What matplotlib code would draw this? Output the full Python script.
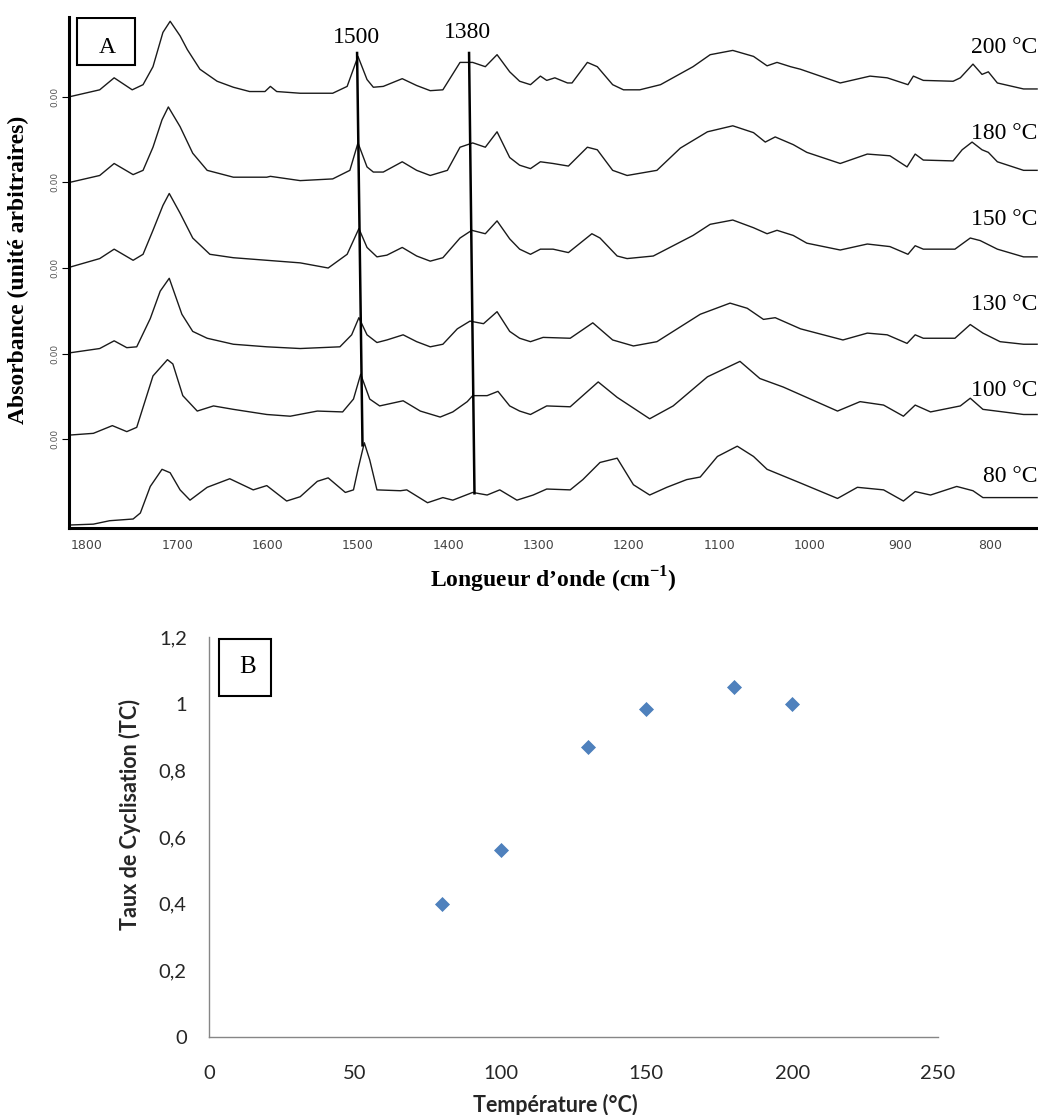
import matplotlib
matplotlib.use('Agg')
import matplotlib.pyplot as plt
import matplotlib.transforms as mtransforms
from matplotlib.patches import Rectangle

plt.rcParams['mathtext.fontset'] = 'custom'
plt.rcParams['mathtext.rm'] = 'Liberation Serif'
plt.rcParams['mathtext.bf'] = 'Liberation Serif:bold'

# ---- Panel A : IR spectra (height above each baseline) ----
temp_labels = ['80 °C', '100 °C', '130 °C', '150 °C', '180 °C', '200 °C']

wn_80 = [1819, 1793, 1775, 1749, 1741, 1730, 1717, 1708, 1697, 1686, 1667, 1642, 1616, 1601, 1579,
         1564, 1545, 1533, 1514, 1505, 1500, 1493, 1487, 1479, 1453, 1446, 1423, 1406, 1395, 1373,
         1357, 1343, 1324, 1306, 1291, 1265, 1251, 1232, 1213, 1195, 1177, 1158, 1136, 1121, 1102,
         1080, 1062, 1047, 1010, 969, 947, 918, 896, 883, 866, 837, 819, 808, 763, 748]
abs_80 = [0, 0.01, 0.05, 0.07, 0.14, 0.45, 0.65, 0.61, 0.41, 0.29, 0.44, 0.54, 0.41, 0.46, 0.28,
          0.33, 0.51, 0.55, 0.38, 0.41, 0.65, 0.96, 0.76, 0.41, 0.40, 0.41, 0.26, 0.32, 0.29, 0.38,
          0.35, 0.41, 0.29, 0.35, 0.42, 0.41, 0.53, 0.73, 0.78, 0.47, 0.35, 0.44, 0.53, 0.56, 0.80,
          0.92, 0.80, 0.65, 0.49, 0.31, 0.44, 0.41, 0.28, 0.39, 0.35, 0.45, 0.40, 0.32, 0.32, 0.32]

wn_100 = [1819, 1793, 1772, 1756, 1745, 1727, 1711, 1705, 1694, 1678, 1660, 1638, 1601, 1575, 1545,
          1517, 1505, 1497, 1487, 1476, 1450, 1431, 1409, 1395, 1379, 1373, 1357, 1345, 1332, 1321,
          1309, 1291, 1265, 1234, 1213, 1177, 1151, 1113, 1077, 1055, 1029, 969, 944, 918, 896,
          883, 866, 833, 822, 808, 763, 748]
abs_100 = [0.05, 0.07, 0.16, 0.09, 0.14, 0.74, 0.93, 0.88, 0.51, 0.33, 0.39, 0.35, 0.29, 0.27, 0.33,
           0.32, 0.47, 0.76, 0.47, 0.39, 0.45, 0.33, 0.26, 0.32, 0.44, 0.51, 0.51, 0.56, 0.39, 0.33,
           0.29, 0.39, 0.38, 0.67, 0.49, 0.24, 0.39, 0.73, 0.91, 0.71, 0.61, 0.33, 0.44, 0.40, 0.27,
           0.40, 0.32, 0.39, 0.48, 0.35, 0.29, 0.29]

wn_130 = [1819, 1786, 1770, 1756, 1745, 1730, 1719, 1709, 1695, 1683, 1667, 1638, 1601, 1564, 1520,
          1507, 1499, 1490, 1479, 1468, 1450, 1435, 1420, 1406, 1390, 1376, 1361, 1346, 1332, 1321,
          1309, 1295, 1265, 1240, 1218, 1195, 1169, 1121, 1088, 1069, 1051, 1038, 1010, 963, 936,
          914, 892, 883, 874, 839, 822, 808, 789, 763, 748]
abs_130 = [0.01, 0.06, 0.15, 0.07, 0.08, 0.41, 0.73, 0.88, 0.46, 0.26, 0.18, 0.11, 0.08, 0.06, 0.08,
           0.22, 0.42, 0.22, 0.13, 0.16, 0.22, 0.14, 0.08, 0.11, 0.29, 0.38, 0.35, 0.49, 0.26, 0.18,
           0.14, 0.19, 0.18, 0.36, 0.16, 0.09, 0.14, 0.46, 0.59, 0.53, 0.40, 0.42, 0.29, 0.16, 0.24,
           0.22, 0.12, 0.22, 0.18, 0.18, 0.34, 0.24, 0.14, 0.11, 0.11]

wn_150 = [1819, 1786, 1770, 1749, 1738, 1727, 1716, 1709, 1697, 1683, 1664, 1638, 1601, 1564, 1533,
          1512, 1499, 1490, 1479, 1468, 1451, 1435, 1420, 1406, 1387, 1374, 1359, 1346, 1332, 1321,
          1309, 1298, 1284, 1267, 1241, 1232, 1213, 1202, 1173, 1129, 1110, 1085, 1062, 1047, 1036,
          1018, 1003, 966, 936, 911, 891, 883, 874, 839, 822, 811, 792, 763, 748]
abs_150 = [0.01, 0.11, 0.22, 0.09, 0.16, 0.44, 0.73, 0.87, 0.64, 0.35, 0.16, 0.12, 0.09, 0.06, 0.00,
           0.16, 0.46, 0.24, 0.13, 0.15, 0.24, 0.14, 0.08, 0.12, 0.35, 0.44, 0.40, 0.55, 0.34, 0.22,
           0.16, 0.22, 0.22, 0.18, 0.40, 0.35, 0.14, 0.11, 0.14, 0.38, 0.51, 0.56, 0.47, 0.40, 0.44,
           0.38, 0.29, 0.21, 0.28, 0.25, 0.16, 0.26, 0.22, 0.22, 0.35, 0.32, 0.22, 0.13, 0.13]

wn_180 = [1819, 1786, 1770, 1749, 1738, 1727, 1717, 1710, 1697, 1683, 1667, 1638, 1601, 1597, 1564,
          1528, 1509, 1500, 1490, 1483, 1472, 1451, 1435, 1420, 1401, 1387, 1373, 1359, 1346, 1332,
          1321, 1309, 1298, 1284, 1267, 1246, 1235, 1218, 1202, 1169, 1143, 1113, 1085, 1062, 1049,
          1038, 1018, 1003, 966, 936, 911, 892, 883, 874, 841, 831, 820, 809, 802, 792, 763, 748]
abs_180 = [0, 0.08, 0.22, 0.09, 0.14, 0.41, 0.73, 0.88, 0.65, 0.34, 0.14, 0.06, 0.06, 0.07, 0.02,
           0.04, 0.14, 0.46, 0.18, 0.12, 0.12, 0.24, 0.14, 0.08, 0.14, 0.41, 0.46, 0.41, 0.59, 0.29,
           0.20, 0.16, 0.24, 0.22, 0.19, 0.41, 0.38, 0.14, 0.08, 0.14, 0.40, 0.59, 0.66, 0.58, 0.47,
           0.53, 0.44, 0.35, 0.22, 0.33, 0.31, 0.18, 0.33, 0.26, 0.25, 0.38, 0.47, 0.38, 0.35, 0.24,
           0.14, 0.14]

wn_200 = [1819, 1786, 1770, 1750, 1738, 1727, 1716, 1708, 1697, 1689, 1675, 1656, 1638, 1620, 1603,
          1597, 1590, 1564, 1528, 1512, 1500, 1490, 1483, 1472, 1451, 1435, 1420, 1406, 1387, 1373,
          1359, 1346, 1332, 1321, 1309, 1298, 1291, 1282, 1268, 1263, 1246, 1235, 1218, 1206, 1188,
          1165, 1129, 1110, 1085, 1062, 1047, 1036, 1021, 1010, 966, 933, 914, 891, 885, 874,
          841, 833, 819, 809, 802, 792, 763, 748]
abs_200 = [0.00, 0.08, 0.22, 0.08, 0.14, 0.35, 0.75, 0.88, 0.71, 0.55, 0.32, 0.18, 0.11, 0.06, 0.06,
           0.12, 0.06, 0.04, 0.04, 0.12, 0.47, 0.20, 0.11, 0.12, 0.21, 0.13, 0.07, 0.08, 0.40, 0.40,
           0.35, 0.49, 0.29, 0.18, 0.14, 0.24, 0.19, 0.22, 0.16, 0.16, 0.40, 0.35, 0.14, 0.08, 0.08,
           0.14, 0.35, 0.49, 0.54, 0.47, 0.36, 0.40, 0.35, 0.32, 0.16, 0.24, 0.22, 0.14, 0.24, 0.19,
           0.18, 0.22, 0.38, 0.26, 0.29, 0.16, 0.09, 0.09]

spectra = [(wn_80, abs_80), (wn_100, abs_100), (wn_130, abs_130),
           (wn_150, abs_150), (wn_180, abs_180), (wn_200, abs_200)]

# guide lines drawn on the spectra (wavenumber, stacked absorbance)
line_1500_wn = [1501, 1495]
line_1500_y = [5.51, 0.93]
line_1380_wn = [1377, 1371]
line_1380_y = [5.51, 0.37]

# ---- Panel B : cyclisation ratio vs temperature ----
temp_B = [80, 100, 130, 150, 180, 200]
tc_B = [0.40, 0.56, 0.87, 0.985, 1.05, 1.00]

serif = 'Liberation Serif'
fig = plt.figure(figsize=(10.38, 11.15), dpi=100)

# Panel A
axA = fig.add_axes([69 / 1038, 1 - 528 / 1115, 969 / 1038, 511 / 1115])
for offset, (wn, ab) in enumerate(spectra):
    axA.plot(wn, [a + offset for a in ab], color='#1a1a1a', lw=1.0)
axA.plot(line_1500_wn, line_1500_y, color='black', lw=1.8)
axA.plot(line_1380_wn, line_1380_y, color='black', lw=1.8)
axA.text(1502, 5.69, '1500', ha='center', va='center', fontsize=17, family=serif)
axA.text(1379, 5.75, '1380', ha='center', va='center', fontsize=17, family=serif)

blend = mtransforms.blended_transform_factory(axA.transAxes, axA.transData)
for offset, lab in enumerate(temp_labels):
    axA.text(0.999, offset + 0.57, lab, ha='right', va='center', fontsize=17,
             family=serif, transform=blend)

axA.set_xlim(1820, 747)
axA.set_ylim(-0.035, 5.93)
axA.set_xticks(range(1800, 700, -100))
axA.tick_params(axis='x', length=0, pad=8, labelsize=9, labelcolor='#444444')
axA.set_yticks([1, 2, 3, 4, 5])
axA.set_yticklabels(['0.00'] * 5, rotation=90, va='center', fontsize=6.5, color='#555555')
axA.tick_params(axis='y', length=5, width=0.8, pad=2)
for s in ['top', 'right']:
    axA.spines[s].set_visible(False)
axA.spines['left'].set_linewidth(2.2)
axA.spines['bottom'].set_linewidth(2.2)

axA.add_patch(Rectangle((0.008, 0.906), 0.060, 0.092, transform=axA.transAxes,
                        fill=False, lw=1.5, ec='black'))
axA.text(0.039, 0.941, 'A', transform=axA.transAxes, ha='center', va='center',
         fontsize=17, family=serif)

fig.text(18 / 1038, 1 - 270 / 1115, 'Absorbance (unité arbitraires)', rotation=90,
         ha='center', va='center', fontsize=17, fontweight='bold', family=serif)
fig.text(553 / 1038, 1 - 580 / 1115, r'Longueur d’onde (cm$^{\mathbf{-1}}$)',
         ha='center', va='center', fontsize=17, fontweight='bold', family=serif)

# Panel B
axB = fig.add_axes([209 / 1038, 1 - 1037 / 1115, 729 / 1038, 400 / 1115])
axB.plot(temp_B, tc_B, linestyle='none', marker='D', ms=6.8, color='#4F81BD',
         mec='#4A7EBB', mew=0.5)
axB.set_xlim(0, 250)
axB.set_ylim(0, 1.2)
axB.set_xticks([0, 50, 100, 150, 200, 250])
axB.set_yticks([0, 0.2, 0.4, 0.6, 0.8, 1.0, 1.2])
axB.set_yticklabels(['0', '0,2', '0,4', '0,6', '0,8', '1', '1,2'])
axB.tick_params(length=0, labelsize=14.5, labelcolor='#262626')
axB.tick_params(axis='y', pad=16)
axB.tick_params(axis='x', pad=20)
for lab in axB.get_xticklabels() + axB.get_yticklabels():
    lab.set_family('Lato')
for s in ['top', 'right']:
    axB.spines[s].set_visible(False)
for s in ['left', 'bottom']:
    axB.spines[s].set_color('#868686')
    axB.spines[s].set_linewidth(1.0)

axB.add_patch(Rectangle((0.0137, 0.8525), 0.0713, 0.1425, transform=axB.transAxes,
                        fill=False, lw=1.5, ec='black'))
axB.text(0.0535, 0.925, 'B', transform=axB.transAxes, ha='center', va='center',
         fontsize=18, family=serif)

fig.text(130 / 1038, 1 - 815 / 1115, 'Taux de Cyclisation (TC)', rotation=90,
         ha='center', va='center', fontsize=15.5, fontweight='bold', family='Lato', color='#262626')
fig.text(555 / 1038, 1 - 1105 / 1115, 'Température (°C)',
         ha='center', va='center', fontsize=15.5, fontweight='bold', family='Lato', color='#262626')

fig.savefig('out.png', dpi=100)
